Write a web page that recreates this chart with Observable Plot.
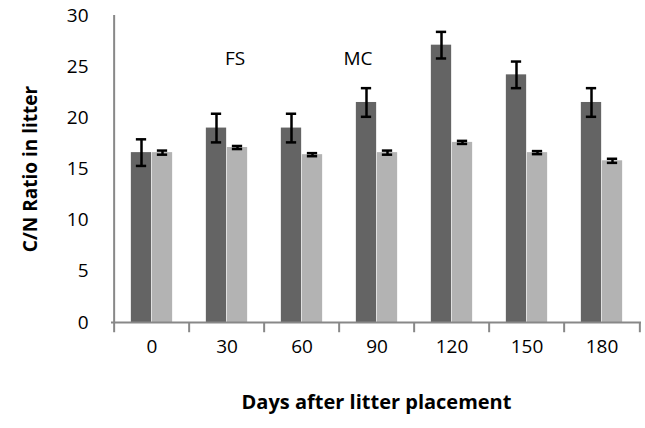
<!DOCTYPE html>
<html>
<head>
<meta charset="utf-8">
<script src="https://cdn.jsdelivr.net/npm/d3@7"></script>
<script src="https://cdn.jsdelivr.net/npm/@observablehq/plot@0.6"></script>
<style>
  html, body { margin: 0; padding: 0; background: #fff; }
  #chart { width: 645px; height: 428px; }
</style>
</head>
<body>
<div id="chart"></div>
<script>
const days = ["0", "30", "60", "90", "120", "150", "180"];
const fsValues = [16.6, 19.0, 19.0, 21.5, 27.1, 24.2, 21.5];
const fsErrors = [1.3, 1.4, 1.4, 1.4, 1.3, 1.3, 1.4];
const mcValues = [16.6, 17.1, 16.4, 16.6, 17.6, 16.6, 15.8];
const mcErrors = [0.2, 0.15, 0.15, 0.2, 0.15, 0.15, 0.2];
const annotations = ["FS", "MC"];
const annotationDays = ["30", "90"];
const annotationY = 25.8;
const yTicks = [0, 5, 10, 15, 20, 25, 30];

const fs = days.map((d, i) => ({day: d, v: fsValues[i], e: fsErrors[i]}));
const mc = days.map((d, i) => ({day: d, v: mcValues[i], e: mcErrors[i]}));
const ann = annotations.map((a, i) => ({label: a, day: annotationDays[i], idx: i}));

const W = 645, H = 428, mL = 111, mR = 4, mT = 15, mB = 106;
const step = (W - mL - mR) / days.length;
const half = step / 2;
const bw = 21;
const capHalf = 5.5;
const axisColor = "#888888";
const font = "Open Sans";
const annDx = [8, -19];

const chart = Plot.plot({
  width: W,
  height: H,
  marginLeft: mL,
  marginRight: mR,
  marginTop: mT,
  marginBottom: mB,
  style: {fontFamily: font, background: "white"},
  x: {domain: days, padding: 0, axis: null},
  y: {domain: [0, 30], axis: null},
  marks: [
    Plot.barY(fs, {x: "day", y: "v", fill: "#646464", insetLeft: half - bw, insetRight: half}),
    Plot.barY(mc, {x: "day", y: "v", fill: "#b3b3b3", insetLeft: half, insetRight: half - bw}),
    // error bars
    Plot.ruleX(fs, {x: "day", y1: d => d.v - d.e, y2: d => d.v + d.e, dx: -bw / 2, stroke: "black", strokeWidth: 2.5}),
    Plot.ruleX(mc, {x: "day", y1: d => d.v - d.e, y2: d => d.v + d.e, dx: bw / 2, stroke: "black", strokeWidth: 2.5}),
    Plot.tickY(fs, {x: "day", y: d => d.v + d.e, insetLeft: half - bw / 2 - capHalf, insetRight: half + bw / 2 - capHalf, stroke: "black", strokeWidth: 2.5}),
    Plot.tickY(fs, {x: "day", y: d => d.v - d.e, insetLeft: half - bw / 2 - capHalf, insetRight: half + bw / 2 - capHalf, stroke: "black", strokeWidth: 2.5}),
    Plot.tickY(mc, {x: "day", y: d => d.v + d.e, insetLeft: half + bw / 2 - capHalf, insetRight: half - bw / 2 - capHalf, stroke: "black", strokeWidth: 2.5}),
    Plot.tickY(mc, {x: "day", y: d => d.v - d.e, insetLeft: half + bw / 2 - capHalf, insetRight: half - bw / 2 - capHalf, stroke: "black", strokeWidth: 2.5}),
    // axes lines
    Plot.ruleY([0], {stroke: axisColor, strokeWidth: 2}),
    Plot.ruleX([days[0]], {x: d => d, y1: 0, y2: 30, dx: -half, stroke: axisColor, strokeWidth: 2}),
    // x boundary ticks
    Plot.ruleX(days, {x: d => d, y1: 0, y2: -1, dx: -half, stroke: axisColor, strokeWidth: 2}),
    Plot.ruleX([days[days.length - 1]], {x: d => d, y1: 0, y2: -1, dx: half, stroke: axisColor, strokeWidth: 2}),
    // y ticks and labels
    Plot.ruleY(yTicks, {y: d => d, x: days[0], dx: -half, insetLeft: -8, insetRight: 0, stroke: axisColor, strokeWidth: 2}),
    Plot.text(yTicks, {y: d => d, frameAnchor: "left", dx: -23, textAnchor: "end", fontSize: 19, fill: "black"}),
    // x labels
    Plot.text(days, {x: d => d, frameAnchor: "bottom", dy: 30, fontSize: 19, fill: "black"}),
    // annotations
    Plot.text(ann.slice(0, 1), {x: "day", y: () => annotationY, text: "label", dx: annDx[0], fontSize: 19, fill: "black"}),
    Plot.text(ann.slice(1, 2), {x: "day", y: () => annotationY, text: "label", dx: annDx[1], fontSize: 19, fill: "black"}),
    // axis titles
    Plot.text(["C/N Ratio in litter"], {frameAnchor: "left", textAnchor: "middle", dx: -81, rotate: -90, fontSize: 19, fontWeight: "bold", fill: "black"}),
    Plot.text(["Days after litter placement"], {frameAnchor: "bottom", dy: 86, fontSize: 20, fontWeight: "bold", fill: "black"})
  ]
});
document.getElementById("chart").appendChild(chart);
</script>
</body>
</html>
